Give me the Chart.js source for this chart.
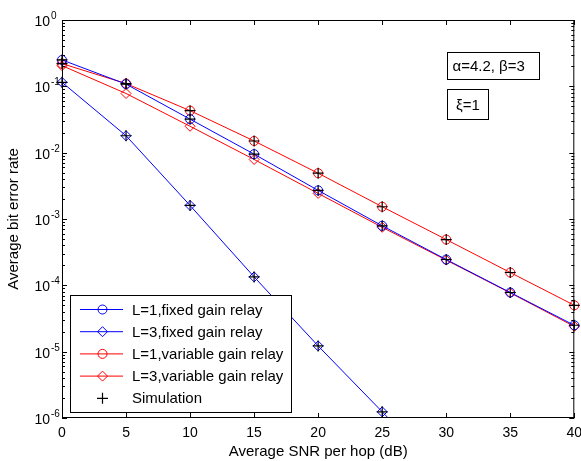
<!DOCTYPE html>
<html>
<head>
<meta charset="utf-8">
<script src="https://cdn.jsdelivr.net/npm/chart.js@4"></script>
<style>
  body { margin: 0; background: #fff; }
</style>
</head>
<body>
<canvas id="ber" width="581" height="461"></canvas>
<script>
// waarden
const snrDb = [0, 5, 10, 15, 20, 25, 30, 35, 40];
const fixedL1 = [0.25, 0.108, 0.032, 0.0095, 0.0027, 0.00079, 0.000245, 0.000078, 0.000025];
const fixedL3 = [0.115, 0.018, 0.0016, 0.000134, 0.0000122, 0.00000124, 0.000000125];
const variableL1 = [0.22, 0.11, 0.043, 0.015, 0.0049, 0.00153, 0.00049, 0.000156, 0.00005];
const variableL3 = [0.205, 0.078, 0.025, 0.0079, 0.00243, 0.00075, 0.00024, 0.000077, 0.000024];

// simulatiepunten (vallen samen met de analytische curves)
const simFixedL1 = [0.25, 0.108, 0.032, 0.0095, 0.0027, 0.00079, 0.000245, 0.000078, 0.000025];
const simVariableL1 = [0.22, 0.11, 0.043, 0.015, 0.0049, 0.00153, 0.00049, 0.000156, 0.00005];
const simFixedL3 = [0.115, 0.018, 0.0016, 0.000134, 0.0000122, 0.00000124];

const seriesLabels = ['L=1,fixed gain relay', 'L=3,fixed gain relay', 'L=1,variable gain relay', 'L=3,variable gain relay', 'Simulation'];
const xTicks = [0, 5, 10, 15, 20, 25, 30, 35, 40];
const yDecades = [-6, -5, -4, -3, -2, -1, 0];
const xTitle = 'Average SNR per hop (dB)';
const yTitle = 'Average bit error rate';
const notes = ['α=4.2, β=3', 'ξ=1'];

const FONT = '"Liberation Sans", Arial, sans-serif';
const BLUE = 'rgb(0,0,255)';
const RED = 'rgb(255,0,0)';

function pts(values) {
  return values.map((v, i) => ({ x: snrDb[i], y: v }));
}

function curve(label, values, color, style, radius) {
  return {
    label: label,
    data: pts(values),
    borderColor: color,
    borderWidth: 1,
    pointStyle: style,
    pointRadius: radius,
    pointHoverRadius: radius,
    pointBorderColor: color,
    pointBackgroundColor: 'rgba(0,0,0,0)',
    pointBorderWidth: 1,
    tension: 0,
    fill: false,
    order: 1,
    clip: { left: 8, right: 8, top: 8, bottom: 0 }
  };
}

const simData = pts(simFixedL1).concat(pts(simVariableL1), pts(simFixedL3));

// assen, legenda en tekstvakken in MATLAB-stijl
const matlabFrame = {
  id: 'matlabFrame',
  afterDatasetsDraw(chart) {
    const { ctx, chartArea: a, scales: { x, y } } = chart;
    ctx.save();

    // tekstvakken
    ctx.font = '15px ' + FONT;
    ctx.textBaseline = 'middle';
    const boxes = [
      { text: notes[0], x1: 30.04, x2: 37.28, y1: 0.329, y2: 0.129, align: 'left' },
      { text: notes[1], x1: 30.04, x2: 33.23, y1: 0.0912, y2: 0.0322, align: 'center' }
    ];
    boxes.forEach(b => {
      const l = Math.round(x.getPixelForValue(b.x1)) + 0.5;
      const r = Math.round(x.getPixelForValue(b.x2)) + 0.5;
      const t = Math.round(y.getPixelForValue(b.y1)) + 0.5;
      const bt = Math.round(y.getPixelForValue(b.y2)) + 0.5;
      ctx.fillStyle = '#fff';
      ctx.fillRect(l, t, r - l, bt - t);
      ctx.strokeStyle = '#000';
      ctx.lineWidth = 1;
      ctx.strokeRect(l, t, r - l, bt - t);
      ctx.fillStyle = '#000';
      ctx.textAlign = b.align;
      const tx = b.align === 'left' ? l + 5 : (l + r) / 2;
      ctx.fillText(b.text, tx, (t + bt) / 2 + 1);
    });

    // legenda
    const lg = { left: a.left + 8.5, top: 295.5, right: 291.5, bottom: 412.5 };
    ctx.fillStyle = '#fff';
    ctx.fillRect(lg.left, lg.top, lg.right - lg.left, lg.bottom - lg.top);
    ctx.strokeStyle = '#000';
    ctx.strokeRect(lg.left, lg.top, lg.right - lg.left, lg.bottom - lg.top);
    chart.data.datasets.forEach((ds, i) => {
      const cy = 309.5 + i * 22.2;
      if (ds.showLine !== false) {
        ctx.strokeStyle = ds.borderColor;
        ctx.lineWidth = 1;
        ctx.beginPath();
        ctx.moveTo(80, cy);
        ctx.lineTo(123, cy);
        ctx.stroke();
      }
      ctx.strokeStyle = ds.pointBorderColor;
      ctx.fillStyle = 'rgba(0,0,0,0)';
      ctx.lineWidth = ds.pointBorderWidth;
      Chart.helpers.drawPoint(ctx, { pointStyle: ds.pointStyle, radius: ds.pointRadius, borderWidth: ds.pointBorderWidth, rotation: 0 }, 102.5, cy);
      ctx.fillStyle = '#000';
      ctx.font = '15px ' + FONT;
      ctx.textAlign = 'left';
      ctx.textBaseline = 'middle';
      ctx.fillText(ds.label, 132, cy + 1);
    });

    // kader
    ctx.strokeStyle = '#000';
    ctx.lineWidth = 1;
    ctx.strokeRect(a.left + 0.5, a.top + 0.5, a.right - a.left - 1, a.bottom - a.top - 1);

    // x-ticks
    ctx.beginPath();
    xTicks.forEach(v => {
      const px = Math.round(x.getPixelForValue(v)) + 0.5;
      ctx.moveTo(px, a.bottom); ctx.lineTo(px, a.bottom - 5);
      ctx.moveTo(px, a.top); ctx.lineTo(px, a.top + 5);
    });
    // y-ticks (log)
    yDecades.forEach(k => {
      const py = Math.round(y.getPixelForValue(Math.pow(10, k))) + 0.5;
      ctx.moveTo(a.left, py); ctx.lineTo(a.left + 5, py);
      ctx.moveTo(a.right, py); ctx.lineTo(a.right - 5, py);
      if (k < 0) {
        for (let m = 2; m <= 9; m++) {
          const pm = Math.round(y.getPixelForValue(m * Math.pow(10, k))) + 0.5;
          ctx.moveTo(a.left, pm); ctx.lineTo(a.left + 3, pm);
          ctx.moveTo(a.right, pm); ctx.lineTo(a.right - 3, pm);
        }
      }
    });
    ctx.stroke();

    // ticklabels
    ctx.fillStyle = '#000';
    ctx.font = '14px ' + FONT;
    ctx.textAlign = 'center';
    ctx.textBaseline = 'middle';
    xTicks.forEach(v => {
      ctx.fillText(String(v), x.getPixelForValue(v), a.bottom + 15);
    });
    yDecades.forEach(k => {
      const py = y.getPixelForValue(Math.pow(10, k));
      ctx.font = '14px ' + FONT;
      ctx.textAlign = 'right';
      ctx.textBaseline = 'middle';
      ctx.fillText('10', a.left - 12, py + 2);
      ctx.font = '10px ' + FONT;
      ctx.textAlign = 'left';
      ctx.textBaseline = 'alphabetic';
      ctx.fillText(String(k), a.left - 11, py - 1);
    });

    // astitels
    ctx.font = '15px ' + FONT;
    ctx.textAlign = 'center';
    ctx.textBaseline = 'middle';
    ctx.fillText(xTitle, (a.left + a.right) / 2, 452);
    ctx.translate(14, (a.top + a.bottom) / 2);
    ctx.rotate(-Math.PI / 2);
    ctx.fillText(yTitle, 0, 0);

    ctx.restore();
  }
};

new Chart(document.getElementById('ber').getContext('2d'), {
  type: 'line',
  data: {
    datasets: [
      curve(seriesLabels[0], fixedL1, BLUE, 'circle', 4.5),
      curve(seriesLabels[1], fixedL3, BLUE, 'rectRot', 5),
      curve(seriesLabels[2], variableL1, RED, 'circle', 4.5),
      curve(seriesLabels[3], variableL3, RED, 'rectRot', 5),
      {
        label: seriesLabels[4],
        data: simData,
        showLine: false,
        pointStyle: 'cross',
        pointRadius: 5.5,
        pointHoverRadius: 5.5,
        pointBorderColor: '#000',
        pointBorderWidth: 1.2,
        borderColor: '#000',
        order: 0,
        clip: { left: 8, right: 8, top: 8, bottom: 0 }
      }
    ]
  },
  options: {
    responsive: false,
    animation: false,
    layout: { padding: { left: 62, right: 5, top: 20, bottom: 43 } },
    plugins: {
      legend: { display: false },
      tooltip: { enabled: false }
    },
    scales: {
      x: { type: 'linear', min: 0, max: 40, display: false },
      y: { type: 'logarithmic', min: 1e-6, max: 1, display: false }
    }
  },
  plugins: [matlabFrame]
});
</script>
</body>
</html>
